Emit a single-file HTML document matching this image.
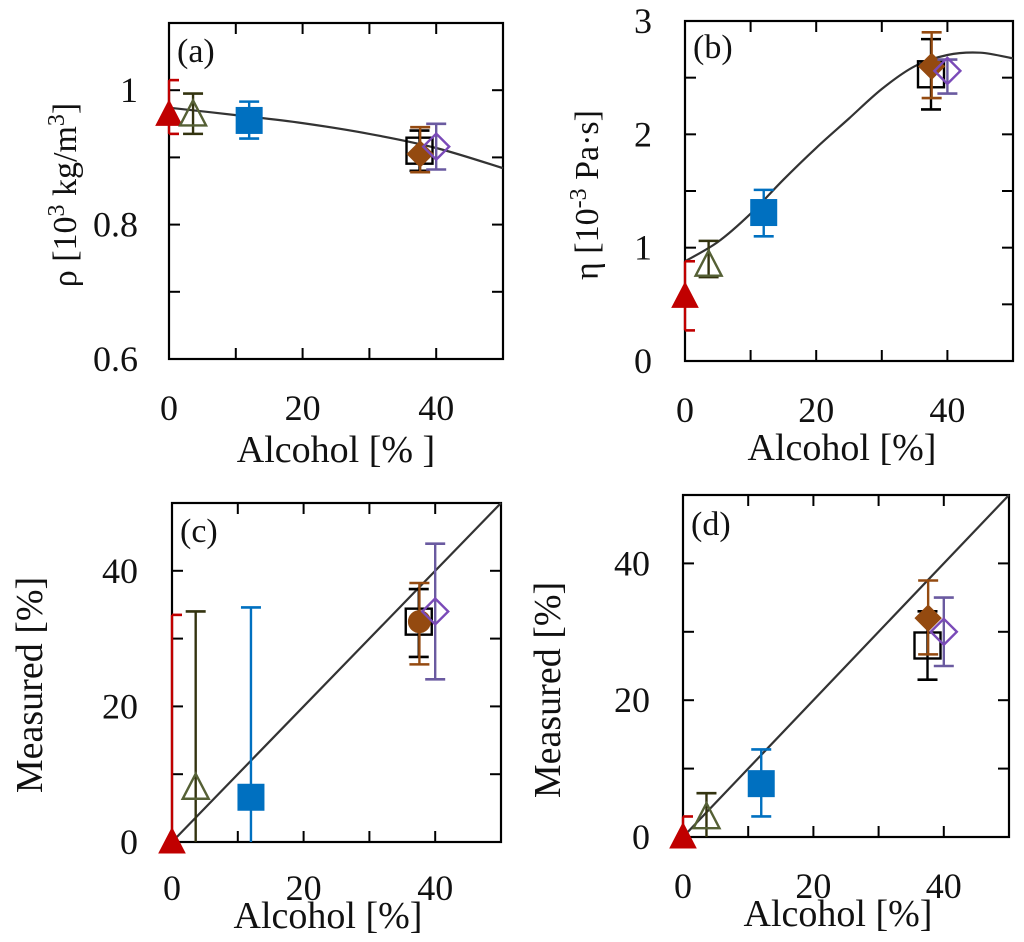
<!DOCTYPE html>
<html><head><meta charset="utf-8"><style>
html,body{margin:0;padding:0;background:#fff;}
svg{display:block;font-family:"Liberation Serif",serif;}
</style></head><body>
<svg id="fig" width="1024" height="942" viewBox="0 0 1024 942" xmlns="http://www.w3.org/2000/svg"></svg>
<script>
// shared categories: alcohol content of samples
const alcohol = [0, 3.6, 12, 37.5, 37.6, 40];
const seriesNames = ['water','beer','wine','whisky','shochu','vodka'];
// panel a: density
const aY  = [0.964, 0.964, 0.955, 0.91, 0.905, 0.916];
const aHi = [1.015, 0.995, 0.983, 0.940, 0.945, 0.950];
const aLo = [0.935, 0.935, 0.928, 0.880, 0.878, 0.882];
const aCurveX = [0, 10, 20, 30, 40, 50];
const aCurveY = [0.974, 0.963, 0.951, 0.935, 0.914, 0.884];
// panel b: viscosity
const bY  = [0.57, 0.85, 1.31, 2.53, 2.6, 2.56];
const bHi = [0.88, 1.06, 1.51, 2.84, 2.9, 2.66];
const bLo = [0.27, 0.74, 1.10, 2.22, 2.32, 2.36];
const bCurveX = [0, 5, 10, 15, 20, 25, 30, 35, 40, 45, 50];
const bCurveY = [0.88, 1.05, 1.3, 1.6, 1.88, 2.14, 2.4, 2.6, 2.7, 2.72, 2.67];
// panel c: measured
const cY  = [0, 8, 6.6, 32.5, 32.5, 34];
const cHi = [33.5, 34, 34.6, 37.3, 38.2, 44];
const cLo = [0, 0, 0, 27.3, 26.2, 24];
// panel d: measured
const dY  = [0, 2.9, 7.8, 28, 32, 30];
const dHi = [3, 6.4, 12.8, 33, 37.5, 35];
const dLo = [0, 0, 3, 23, 26.7, 25];
const diagX = [0, 50];
const diagY = [0, 50];
// tick labels
const aYTicks = [0.6, 0.7, 0.8, 0.9, 1.0, 1.1];
const aYLabels = ['0.6', '', '0.8', '', '1', ''];
const bYTicks = [0, 0.5, 1, 1.5, 2, 2.5, 3];
const bYLabels = ['0', '', '1', '', '2', '', '3'];
const pctTicks = [0, 10, 20, 30, 40, 50];
const pctLabels = ['0', '', '20', '', '40', ''];

const NS = 'http://www.w3.org/2000/svg';
const svg = document.getElementById('fig');
function mk(tag, attrs, parent) {
  const e = document.createElementNS(NS, tag);
  for (const k in attrs) e.setAttribute(k, attrs[k]);
  (parent || svg).appendChild(e);
  return e;
}
const styles = [
  {shape:'tri', fill:'#c00000', stroke:'#c00000', err:'#c00000'},
  {shape:'tri', fill:'none', stroke:'#556035', err:'#33330f'},
  {shape:'sq', fill:'#0070c0', stroke:'#0070c0', err:'#0070c0'},
  {shape:'sq', fill:'none', stroke:'#000', err:'#000'},
  {shape:'dia', fill:'#944a10', stroke:'#944a10', err:'#944a10'},
  {shape:'dia', fill:'none', stroke:'#7a4ab8', err:'#6a5aa0'}
];

function smoothPath(pts) {
  let d = 'M' + pts[0][0].toFixed(1) + ',' + pts[0][1].toFixed(1);
  if (pts.length === 2) return d + 'L' + pts[1][0].toFixed(1) + ',' + pts[1][1].toFixed(1);
  for (let i = 0; i < pts.length - 1; i++) {
    const p0 = pts[Math.max(0, i - 1)], p1 = pts[i], p2 = pts[i + 1], p3 = pts[Math.min(pts.length - 1, i + 2)];
    const c1x = p1[0] + (p2[0] - p0[0]) / 6, c1y = p1[1] + (p2[1] - p0[1]) / 6;
    const c2x = p2[0] - (p3[0] - p1[0]) / 6, c2y = p2[1] - (p3[1] - p1[1]) / 6;
    d += 'C' + c1x.toFixed(1) + ',' + c1y.toFixed(1) + ' ' + c2x.toFixed(1) + ',' + c2y.toFixed(1) + ' ' + p2[0].toFixed(1) + ',' + p2[1].toFixed(1);
  }
  return d;
}

function panel(p) {
  const g = mk('g', {});
  
  
  const sx = v => p.x0 + (v - p.xmin) / (p.xmax - p.xmin) * (p.x1 - p.x0);
  const sy = v => p.y1 - (v - p.ymin) / (p.ymax - p.ymin) * (p.y1 - p.y0);
  const fr = mk('rect', {x:p.x0, y:p.y0, width:p.x1-p.x0, height:p.y1-p.y0, fill:'none', stroke:'#000', 'stroke-width':2.2}, g);
  
  
  p.xt.forEach((v, i) => {
    const x = sx(v);
    if (v > p.xmin && v < p.xmax) {
      mk('line', {x1:x, x2:x, y1:p.y1, y2:p.y1-11, stroke:'#000', 'stroke-width':2}, g);
      mk('line', {x1:x, x2:x, y1:p.y0, y2:p.y0+11, stroke:'#000', 'stroke-width':2}, g);
    }
    if (p.xl[i]) {
      const t = mk('text', {x:x, y:p.xtb, 'text-anchor':'middle', 'font-size':36, fill:'#111'}, g);
      t.textContent = p.xl[i];
      
      
    }
  });
  p.yt.forEach((v, i) => {
    const y = sy(v);
    if (v > p.ymin && v < p.ymax) {
      mk('line', {x1:p.x0, x2:p.x0+11, y1:y, y2:y, stroke:'#000', 'stroke-width':2}, g);
      mk('line', {x1:p.x1, x2:p.x1-11, y1:y, y2:y, stroke:'#000', 'stroke-width':2}, g);
    }
    if (p.yl[i]) {
      const t = mk('text', {x:p.ytr, y:y+12, 'text-anchor':'end', 'font-size':36, fill:'#111'}, g);
      t.textContent = p.yl[i];
      
      
    }
  });
  const xl = mk('text', {x:p.xlc, y:p.xlb, 'text-anchor':'middle', 'font-size':38, fill:'#111'}, g);
  xl.textContent = p.xlabel;
  
  
  const yl = mk('text', {x:0, y:0, 'text-anchor':'middle', 'font-size':p.ylfs || 38, fill:'#111', transform:'translate(' + p.ylx + ',' + p.yly + ') rotate(-90)'}, g);
  yl.innerHTML = p.ylabel;
  
  
  const pl = mk('text', {x:p.x0 + 8, y:p.lb, 'font-size':34, fill:'#111'}, g);
  pl.textContent = '(' + p.id + ')';
  
  
  const pts = p.cx.map((v, i) => [sx(v), sy(p.cy[i])]);
  const cv = mk('path', {d:smoothPath(pts), fill:'none', stroke:'#333', 'stroke-width':2.2, 'stroke-linejoin':'round'}, g);
  
  
  alcohol.forEach((xv, i) => {
    const st = styles[i];
    const x = sx(xv), y = sy(p.y[i]), yh = sy(p.hi[i]), ylo = sy(p.lo[i]);
    const pg = mk('g', {}, g);
    
    
    mk('line', {x1:x, x2:x, y1:yh, y2:ylo, stroke:st.err, 'stroke-width':2.4}, pg);
    const cw = 10;
    const capL = (i === 0) ? x : x - cw;
    if (p.hi[i] > p.y[i]) mk('line', {x1:capL, x2:x+cw, y1:yh, y2:yh, stroke:st.err, 'stroke-width':2.6}, pg);
    if (p.lo[i] < p.y[i] && p.lo[i] > p.ymin) mk('line', {x1:capL, x2:x+cw, y1:ylo, y2:ylo, stroke:st.err, 'stroke-width':2.6}, pg);
    let shape = st.shape;
    if (p.id === 'c' && i === 4) shape = 'circ';
    const sw = st.fill === 'none' ? 2.4 : 1;
    if (shape === 'tri') {
      mk('polygon', {points:(x)+','+(y-14)+' '+(x+13)+','+(y+11)+' '+(x-13)+','+(y+11), fill:st.fill, stroke:st.stroke, 'stroke-width':sw}, pg);
    } else if (shape === 'sq') {
      mk('rect', {x:x-13, y:y-13, width:26, height:26, fill:st.fill, stroke:st.stroke, 'stroke-width':sw}, pg);
    } else if (shape === 'dia') {
      mk('polygon', {points:x+','+(y-13)+' '+(x+13)+','+y+' '+x+','+(y+13)+' '+(x-13)+','+y, fill:st.fill, stroke:st.stroke, 'stroke-width':sw}, pg);
    } else {
      mk('circle', {cx:x, cy:y, r:11, fill:st.fill, stroke:st.stroke}, pg);
    }
  });
}

panel({id:'a', x0:169, x1:503, y0:23, y1:359, xmin:0, xmax:50, ymin:0.6, ymax:1.1,
  xt:pctTicks, xl:pctLabels, yt:aYTicks, yl:aYLabels, xtb:420, ytr:138,
  xlabel:'Alcohol [% ]', xlc:336, xlb:462, ylabel:'ρ [10<tspan font-size="24" dy="-12">3</tspan><tspan dy="12"> kg/m</tspan><tspan font-size="24" dy="-12">3</tspan><tspan dy="12">]</tspan>',
  ylx:76, yly:195, ylfs:34, lb:62, cx:aCurveX, cy:aCurveY, y:aY, hi:aHi, lo:aLo});
panel({id:'b', x0:685, x1:1013, y0:21, y1:361, xmin:0, xmax:50, ymin:0, ymax:3,
  xt:pctTicks, xl:pctLabels, yt:bYTicks, yl:bYLabels, xtb:422, ytr:652,
  xlabel:'Alcohol [%]', xlc:842, xlb:460, ylabel:'η [10<tspan font-size="24" dy="-12">-3</tspan><tspan dy="12"> Pa·s]</tspan>',
  ylx:598, yly:195, ylfs:34, lb:58, cx:bCurveX, cy:bCurveY, y:bY, hi:bHi, lo:bLo});
panel({id:'c', x0:172, x1:501, y0:503, y1:842, xmin:0, xmax:50, ymin:0, ymax:50,
  xt:pctTicks, xl:pctLabels, yt:pctTicks, yl:pctLabels, xtb:900, ytr:138,
  xlabel:'Alcohol [%]', xlc:328, xlb:928, ylabel:'Measured [%]',
  ylx:42, yly:685, lb:542, cx:diagX, cy:diagY, y:cY, hi:cHi, lo:cLo});
panel({id:'d', x0:683, x1:1009, y0:495, y1:837, xmin:0, xmax:50, ymin:0, ymax:50,
  xt:pctTicks, xl:pctLabels, yt:pctTicks, yl:pctLabels, xtb:898, ytr:650,
  xlabel:'Alcohol [%]', xlc:838, xlb:926, ylabel:'Measured [%]',
  ylx:560, yly:690, lb:535, cx:diagX, cy:diagY, y:dY, hi:dHi, lo:dLo});
</script>
</body></html>
